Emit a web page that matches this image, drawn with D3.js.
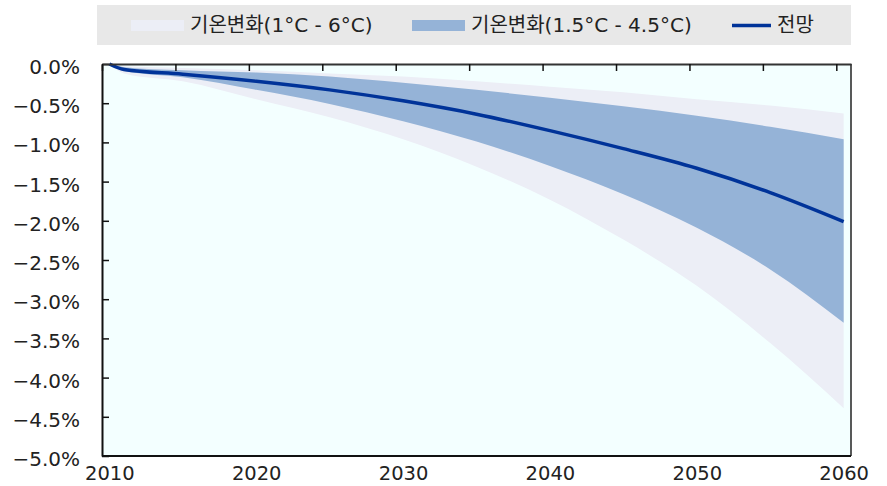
<!DOCTYPE html>
<html><head><meta charset="utf-8">
<script src="https://cdn.jsdelivr.net/npm/d3@7"></script>
<style>
html,body{margin:0;padding:0;background:#fff;}
svg{display:block;font-family:"DejaVu Sans","Noto Sans CJK KR",sans-serif;}
</style></head>
<body><svg id="c" width="887" height="486"></svg>
<script>
const years      = [2010, 2011, 2015, 2020, 2025, 2030, 2035, 2040, 2045, 2050, 2055, 2060];
const forecast   = [0, -0.07, -0.13, -0.22, -0.33, -0.47, -0.64, -0.85, -1.08, -1.33, -1.64, -2.01];
const innerUpper = [0, -0.04, -0.08, -0.11, -0.16, -0.24, -0.33, -0.43, -0.54, -0.66, -0.80, -0.96];
const innerLower = [0, -0.09, -0.17, -0.33, -0.51, -0.73, -0.99, -1.30, -1.66, -2.09, -2.62, -3.30];
const outerUpper = [0, -0.03, -0.05, -0.08, -0.12, -0.16, -0.22, -0.29, -0.36, -0.45, -0.53, -0.63];
const outerLower = [0, -0.12, -0.22, -0.45, -0.68, -0.96, -1.31, -1.73, -2.24, -2.83, -3.56, -4.39];
const yTicks = [0, -0.5, -1, -1.5, -2, -2.5, -3, -3.5, -4, -4.5, -5];
const xLabels = [2010, 2020, 2030, 2040, 2050, 2060];
const xTickMarks = [2009.5, 2014.5, 2019.5, 2024.5, 2029.5, 2034.5, 2039.5, 2044.5, 2049.5, 2054.5, 2059.5];
const legendNames = ["기온변화(1°C - 6°C)", "기온변화(1.5°C - 4.5°C)", "전망"];

const colOuter = "#ECEEF6", colInner = "#95B3D7", colLine = "#003399";
const FONT = "'DejaVu Sans','Noto Sans CJK KR',sans-serif";
const svg = d3.select("#c");
const L = 102, R = 851, T = 64, B = 456;
const x = d3.scaleLinear().domain([2009.5, 2060.5]).range([L, R]);
const y = d3.scaleLinear().domain([0, -5]).range([T, B]);

// legend
svg.append("rect").attr("x", 97).attr("y", 5).attr("width", 754).attr("height", 40).attr("fill", "#E8E8E8");
const lg = svg.append("g");
const legX = [131, 412, 732];
lg.append("rect").attr("x", legX[0]).attr("y", 20).attr("width", 53).attr("height", 11).attr("fill", colOuter);
lg.append("rect").attr("x", legX[1]).attr("y", 20).attr("width", 53).attr("height", 11).attr("fill", colInner);
lg.append("line").attr("x1", legX[2]).attr("x2", legX[2] + 39).attr("y1", 25.5).attr("y2", 25.5).attr("stroke", colLine).attr("stroke-width", 3.5);
const textX = [190, 471, 777];
legendNames.forEach((n, i) => {
  lg.append("text").attr("x", textX[i]).attr("y", 25).attr("dy", "0.36em").attr("font-size", 20)
    .attr("font-family", FONT).attr("fill", "#222").text(n);
});

// plot background
svg.append("rect").attr("x", L).attr("y", T).attr("width", R - L).attr("height", B - T).attr("fill", "#F3FFFF");

const idx = years.map((d, i) => i);
const curve = d3.curveMonotoneX;
const outerArea = d3.area().x(i => x(years[i])).y0(i => y(outerLower[i])).y1(i => y(outerUpper[i])).curve(curve);
const innerArea = d3.area().x(i => x(years[i])).y0(i => y(innerLower[i])).y1(i => y(innerUpper[i])).curve(curve);
const line = d3.line().x(i => x(years[i])).y(i => y(forecast[i])).curve(curve);

svg.append("path").attr("d", outerArea(idx)).attr("fill", colOuter);
svg.append("path").attr("d", innerArea(idx)).attr("fill", colInner);
svg.append("path").attr("d", line(idx)).attr("fill", "none").attr("stroke", colLine).attr("stroke-width", 3.5).attr("stroke-linejoin", "round");

// borders
svg.append("line").attr("x1", R).attr("x2", R).attr("y1", T).attr("y2", B).attr("stroke", "#222").attr("stroke-width", 1.5);
svg.append("line").attr("x1", L).attr("x2", R).attr("y1", B).attr("y2", B).attr("stroke", "#111").attr("stroke-width", 2);

// y axis
const yAxis = d3.axisLeft(y).tickValues(yTicks).tickSize(-7).tickSizeOuter(0).tickPadding(22)
  .tickFormat(d => d3.format(".1f")(d) + "%");
const ga = svg.append("g").attr("transform", `translate(${L},0)`).call(yAxis);
ga.select(".domain").attr("stroke", "#111").attr("stroke-width", 2);
ga.selectAll(".tick line").attr("stroke", "#111").attr("stroke-width", 1.5);
ga.selectAll("text").attr("font-size", 20).attr("dy", "0.47em").attr("fill", "#222").attr("font-family", FONT);

// x axis at top (zero line) with inward ticks
const xAxis = d3.axisBottom(x).tickValues(xTickMarks).tickSize(7).tickSizeOuter(0).tickFormat("");
const gx = svg.append("g").attr("transform", `translate(0,${T})`).call(xAxis);
gx.select(".domain").attr("stroke", "#333").attr("stroke-width", 2);
gx.selectAll(".tick line").attr("stroke", "#111").attr("stroke-width", 1.5);

// x labels at bottom
const xLab = d3.axisBottom(x).tickValues(xLabels).tickSize(0).tickPadding(10).tickFormat(d3.format("d"));
const gl = svg.append("g").attr("transform", `translate(0,${B})`).call(xLab);
gl.select(".domain").remove();
gl.selectAll("text").attr("font-size", 19.5).attr("fill", "#222").attr("font-family", FONT);
</script></body></html>
